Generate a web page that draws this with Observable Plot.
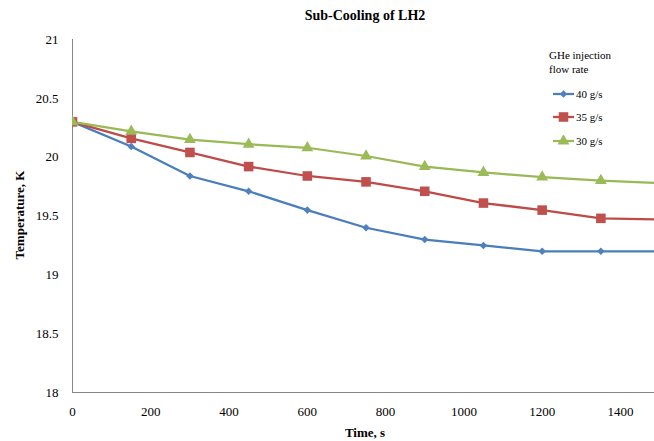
<!DOCTYPE html>
<html>
<head>
<meta charset="utf-8">
<script src="https://cdn.jsdelivr.net/npm/d3@7"></script>
<script src="https://cdn.jsdelivr.net/npm/@observablehq/plot@0.6"></script>
<style>
  html, body { margin: 0; padding: 0; background: #fff; }
  #wrap { position: relative; width: 654px; height: 441px; font-family: "Liberation Serif", serif; color: #000; }
  #wrap * { font-family: "Liberation Serif", serif !important; }
  #chart { position: absolute; left: 0; top: 0; }
  #chart svg text { font-family: "Liberation Serif", serif !important; font-size: 13px; }
  .title { position: absolute; left: 365px; top: 8px; transform: translateX(-50%); font-weight: bold; font-size: 14px; line-height: 16px; white-space: nowrap; }
  .xtitle { position: absolute; left: 365px; top: 425px; transform: translateX(-50%); font-weight: bold; font-size: 13px; line-height: 16px; white-space: nowrap; }
  .ytitle { position: absolute; left: 20px; top: 215px; transform: translate(-50%, -50%) rotate(-90deg); font-weight: bold; font-size: 13px; line-height: 16px; white-space: nowrap; }
  .legend { position: absolute; left: 549px; top: 48px; font-size: 11px; line-height: 14px; }
  .legend .entry { position: absolute; left: 3px; white-space: nowrap; height: 14px; }
  .legend .entry svg { position: absolute; left: 0; top: 1px; }
  .legend .entry span { position: absolute; left: 24px; top: 0; }
</style>
</head>
<body>
<div id="wrap">
  <div id="chart"></div>
  <div class="title">Sub-Cooling of LH2</div>
  <div class="xtitle">Time, s</div>
  <div class="ytitle">Temperature, K</div>
  <div class="legend" id="legend">
    <div style="position:absolute; left:0; top:0; white-space:nowrap;">GHe injection</div>
    <div style="position:absolute; left:0; top:14px; white-space:nowrap;">flow rate</div>
  </div>
</div>
<script>
// ---- data ----
const times = [0, 150, 300, 450, 600, 750, 900, 1050, 1200, 1350, 1500];
const rate40 = [20.30, 20.09, 19.84, 19.71, 19.55, 19.40, 19.30, 19.25, 19.20, 19.20, 19.20];
const rate35 = [20.30, 20.16, 20.04, 19.92, 19.84, 19.79, 19.71, 19.61, 19.55, 19.48, 19.47];
const rate30 = [20.30, 20.22, 20.15, 20.11, 20.08, 20.01, 19.92, 19.87, 19.83, 19.80, 19.78];
const seriesNames = ["40 g/s", "35 g/s", "30 g/s"];
const xTicks = [0, 200, 400, 600, 800, 1000, 1200, 1400];
const yTicks = [18, 18.5, 19, 19.5, 20, 20.5, 21];

// ---- styles ----
const lineColors = ["#4A7EBB", "#BE4B48", "#98B954"];
const markColors = ["#4F81BD", "#C0504D", "#9BBB59"];
const symbols = ["diamond2", "square", "triangle"];
const radii = [3.4, 5.4, 4.4];

const seriesValues = [rate40, rate35, rate30];
const rows = seriesValues.map((vals, i) => times.map((t, j) => ({time: t, temp: vals[j], series: seriesNames[i]})));

const marks = [
  Plot.ruleX([0], {stroke: "#868686", strokeWidth: 1}),
  Plot.ruleY([18], {stroke: "#868686", strokeWidth: 1})
];
rows.forEach((r, i) => {
  marks.push(Plot.line(r, {x: "time", y: "temp", stroke: lineColors[i], strokeWidth: 2.25, clip: true}));
});
rows.forEach((r, i) => {
  marks.push(Plot.dot(r, {x: "time", y: "temp", symbol: () => symbols[i], fill: markColors[i], stroke: "none", r: radii[i], clip: true}));
});

const chart = Plot.plot({
  width: 654,
  height: 441,
  marginTop: 39,
  marginBottom: 49,
  marginLeft: 72,
  marginRight: 0,
  style: {fontFamily: "Liberation Serif, serif", fontSize: "13px", color: "#000", background: "transparent"},
  symbol: {type: "identity"},
  x: {domain: [0, 1487], ticks: xTicks, tickFormat: d => String(d), tickSize: 0, tickPadding: 14, label: null},
  y: {domain: [18, 21], ticks: yTicks, tickFormat: d => String(d), tickSize: 0, tickPadding: 14, label: null},
  marks
});
document.getElementById("chart").appendChild(chart);

// ---- legend ----
const legend = document.getElementById("legend");
const legendTops = [39, 62, 86];
seriesNames.forEach((name, i) => {
  const entry = document.createElement("div");
  entry.className = "entry";
  entry.style.top = legendTops[i] + "px";
  const sym = {diamond2: d3.symbolDiamond2, square: d3.symbolSquare, triangle: d3.symbolTriangle}[symbols[i]];
  const path = d3.symbol(sym, Math.PI * radii[i] * radii[i])();
  entry.innerHTML =
    `<svg width="24" height="12" viewBox="0 0 24 12">
       <line x1="1" x2="22" y1="6" y2="6" stroke="${lineColors[i]}" stroke-width="2.25"/>
       <path d="${path}" transform="translate(11.5,6)" fill="${markColors[i]}"/>
     </svg><span>${name}</span>`;
  legend.appendChild(entry);
});
</script>
</body>
</html>
